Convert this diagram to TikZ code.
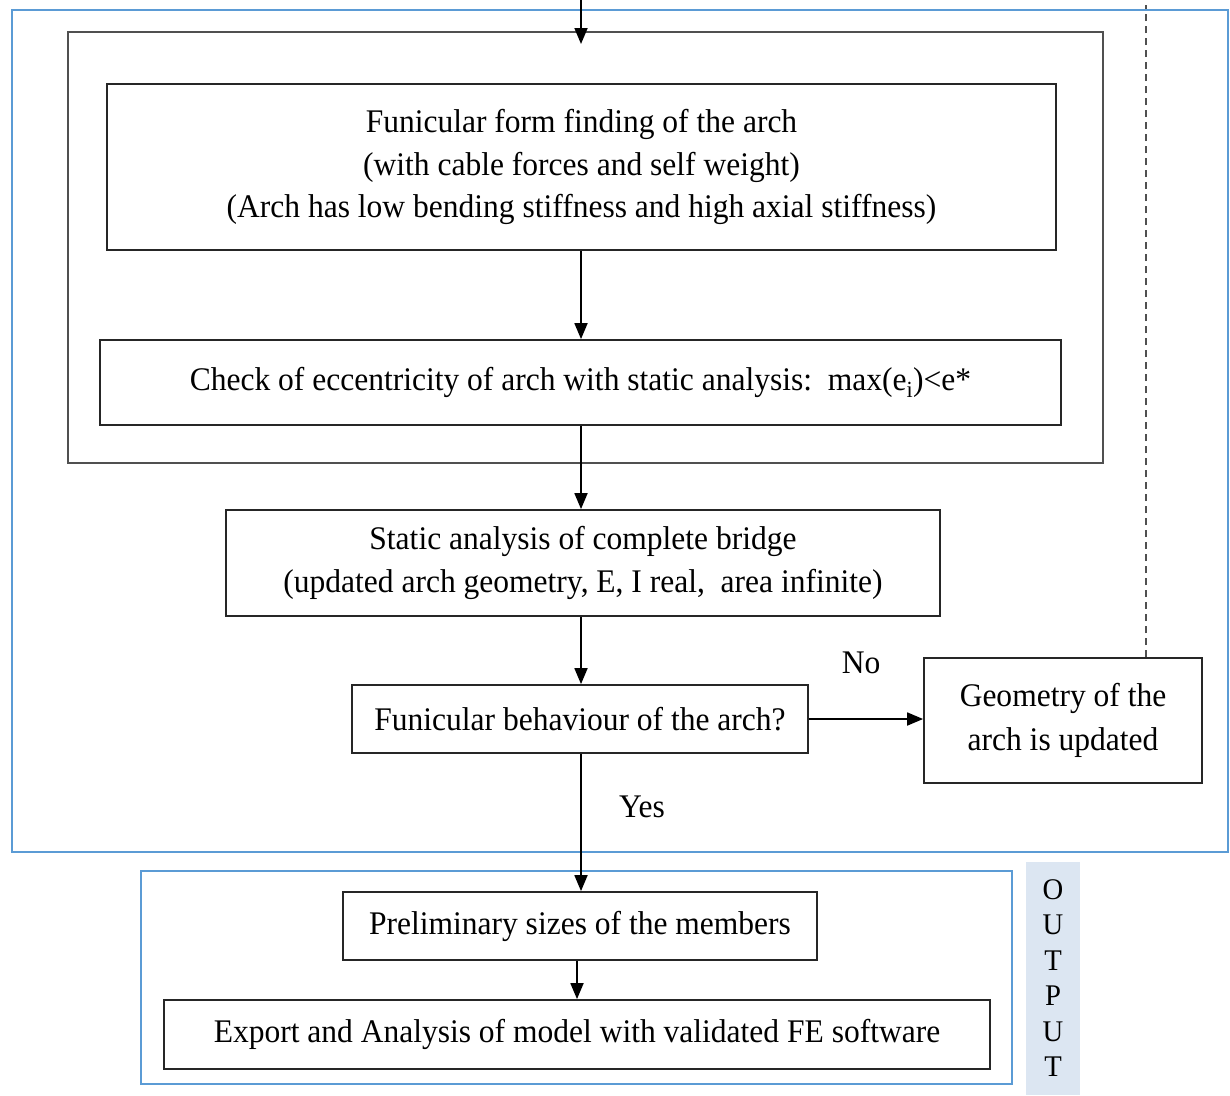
\documentclass[tikz,border=0pt]{standalone}
\usepackage{fontspec}
\setmainfont{Liberation Serif}[FakeStretch=0.955]
\usetikzlibrary{arrows.meta}
\definecolor{frameblue}{HTML}{5B9BD5}
\definecolor{barfill}{HTML}{DCE6F2}
\definecolor{framegray}{RGB}{80,80,80}
\tikzset{
  stepbox/.style={draw=black!85, line width=1.8pt, align=center, inner sep=0pt,
                  font=\fontsize{33}{42.5}\selectfont},
  label/.style={inner sep=0pt, font=\fontsize{33}{36}\selectfont},
  arr/.style={line width=1.8pt, -{Triangle[length=16pt,width=13pt]}},
}
\begin{document}
\begin{tikzpicture}[x=1pt,y=-1pt]
\useasboundingbox (0,0) rectangle (1230,1095);

% outer frames
\draw[frameblue, line width=2.2pt] (12,10) rectangle (1228,852);
\node[draw=framegray, line width=2.6pt, minimum width=1035pt, minimum height=431pt, inner sep=0pt]
  (inner) at (585.5,247.5) {};
\draw[frameblue, line width=2.2pt] (141,871) rectangle (1012,1084);

% OUTPUT bar
\fill[barfill] (1026,862) rectangle (1080,1095);
\node[align=center, inner sep=0pt, font=\fontsize{30}{35.5}\selectfont] (out) at (1053,978)
  {O\\U\\T\\P\\U\\T};

% process boxes
\node[stepbox, minimum width=949pt, minimum height=166pt] (form) at (581.5,167)
  {Funicular form finding of the arch\\(with cable forces and self weight)\\(Arch has low bending stiffness and high axial stiffness)};
\node[stepbox, minimum width=961pt, minimum height=85pt] (ecc) at (580.5,382.5)
  {Check of eccentricity of arch with static analysis:\ \ max(e\textsubscript{i})<e*};
\node[stepbox, minimum width=714pt, minimum height=106pt] (static) at (583,563)
  {Static analysis of complete bridge\\(updated arch geometry, E, I real,\ \ area infinite)};
\node[stepbox, minimum width=456pt, minimum height=68pt] (funic) at (580,719)
  {Funicular behaviour of the arch?};
\node[stepbox, minimum width=278pt, minimum height=125pt, font=\fontsize{33}{44}\selectfont] (geom) at (1063,720.5)
  {Geometry of the\\arch is updated};
\node[stepbox, minimum width=474pt, minimum height=68pt] (prelim) at (580,926)
  {Preliminary sizes of the members};
\node[stepbox, minimum width=826pt, minimum height=69pt] (export) at (577,1034.5)
  {Export and Analysis of model with validated FE software};

% branch labels
\node[label] (no) at (861,663) {No};
\node[label] (yes) at (642,807) {Yes};

% connectors
\coordinate (topin) at (581,0);
\coordinate (topend) at (581,44);
\draw[arr] (topin) -- (topend);
\draw[arr] (form.south -| 581,0) -- (ecc.north -| 581,0);
\draw[arr] (ecc.south -| 581,0) -- (static.north -| 581,0);
\draw[arr] (static.south -| 581,0) -- (funic.north -| 581,0);
\draw[arr] (funic.south -| 581,0) -- (prelim.north -| 581,0);
\draw[arr] (prelim.south -| 577,0) -- (export.north -| 577,0);
\draw[arr] (funic.east) -- (geom.west |- funic.east);

% feedback line back to the top
\coordinate (loopend) at (1146,5);
\draw[framegray, line width=1.8pt, dash pattern=on 7pt off 5pt] (geom.north -| loopend) -- (loopend);
\end{tikzpicture}
\end{document}
